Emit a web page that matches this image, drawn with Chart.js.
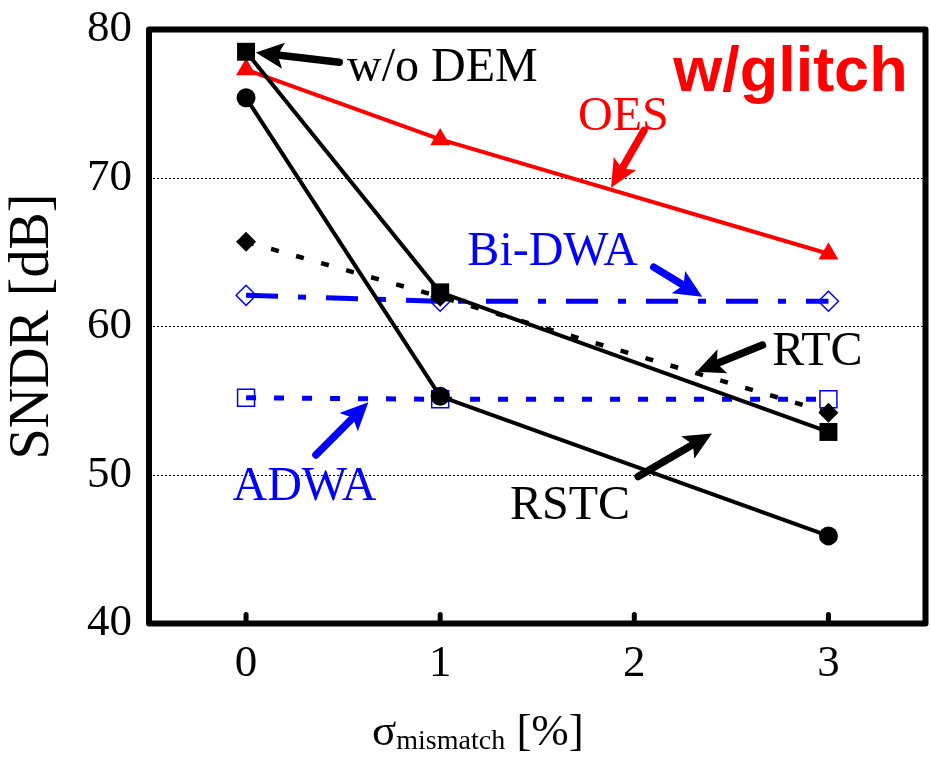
<!DOCTYPE html>
<html>
<head>
<meta charset="utf-8">
<script src="https://cdn.jsdelivr.net/npm/chart.js@4.4.1/dist/chart.umd.min.js"></script>
<style>
  html, body { margin: 0; padding: 0; background: #fff; }
  canvas { display: block; }
</style>
</head>
<body>
<canvas id="chart" width="930" height="760"></canvas>
<script>
// ---- data ----
const xLabels = ['0', '1', '2', '3'];
const yTicks = [40, 50, 60, 70, 80];
const woDEM = [78.5, 62.3, null, 52.9];
const oes   = [77.3, 72.6, null, 64.9];
const rstc  = [75.4, 55.3, null, 45.9];
const rtc   = [65.7, 62.0, null, 54.2];
const biDWA = [62.1, 61.7, null, 61.7];
const adwa  = [55.2, 55.1, null, 55.1];

// labels + arrows, placed in data units (x = category index, y = dB)
const notes = [
  { text: 'w/o DEM', x: 0.52, y: 76.5, color: '#000', arrow: [0.48, 77.8, 0.05, 78.45] },
  { text: 'OES', x: 1.71, y: 73.2, color: '#f00', arrow: [2.05, 73.2, 1.88, 69.35] },
  { text: 'Bi-DWA', x: 1.14, y: 64.15, color: '#00f', arrow: [2.10, 64.0, 2.35, 62.0] },
  { text: 'RTC', x: 2.71, y: 57.4, color: '#000', arrow: [2.66, 58.75, 2.32, 56.95] },
  { text: 'RSTC', x: 1.36, y: 47.05, color: '#000', arrow: [2.02, 49.9, 2.40, 52.8] },
  { text: 'ADWA', x: -0.07, y: 48.3, color: '#00f', arrow: [0.36, 51.35, 0.63, 54.9] }
];

const SERIF = '"Liberation Serif", "Times New Roman", serif';

function drawArrow(ctx, x1, y1, x2, y2, color){
  const a = Math.atan2(y2 - y1, x2 - x1);
  const c = Math.cos(a), s = Math.sin(a);
  const hl = 28, hw = 13;
  const bx = x2 - hl * c, by = y2 - hl * s;
  ctx.strokeStyle = color;
  ctx.fillStyle = color;
  ctx.lineWidth = 7.5;
  ctx.lineCap = 'round';
  ctx.beginPath();
  ctx.moveTo(x1, y1);
  ctx.lineTo(bx + 6 * c, by + 6 * s);
  ctx.stroke();
  ctx.beginPath();
  ctx.moveTo(x2, y2);
  ctx.lineTo(bx - hw * s, by + hw * c);
  ctx.lineTo(bx + 6 * c, by + 6 * s);
  ctx.lineTo(bx + hw * s, by - hw * c);
  ctx.closePath();
  ctx.fill();
}

// zero out the auto label padding so the plot box sits where the figure has it
function noPad(s){
  s.paddingLeft = 0; s.paddingRight = 0; s.paddingTop = 0; s.paddingBottom = 0;
}

const decor = {
  id: 'decor',
  afterDatasetsDraw(chart){
    const ctx = chart.ctx, xs = chart.scales.x, ys = chart.scales.y, area = chart.chartArea;
    ctx.save();
    // annotation labels + arrows
    notes.forEach(n => {
      ctx.font = '48px ' + SERIF;
      ctx.fillStyle = n.color;
      ctx.textAlign = 'left';
      ctx.textBaseline = 'alphabetic';
      ctx.fillText(n.text, xs.getPixelForValue(n.x), ys.getPixelForValue(n.y));
      const a = n.arrow;
      drawArrow(ctx, xs.getPixelForValue(a[0]), ys.getPixelForValue(a[1]),
                     xs.getPixelForValue(a[2]), ys.getPixelForValue(a[3]), n.color);
    });
    // w/glitch tag
    ctx.font = 'bold 63px "Liberation Sans", Arial, sans-serif';
    ctx.fillStyle = '#f00';
    ctx.textAlign = 'left';
    ctx.fillText('w/glitch', xs.getPixelForValue(2.2), ys.getPixelForValue(75.85));

    // frame
    ctx.strokeStyle = '#000';
    ctx.lineWidth = 6;
    ctx.lineJoin = 'round';
    ctx.strokeRect(area.left, area.top, area.right - area.left, area.bottom - area.top);
    // inner tick stubs on bottom axis
    ctx.lineWidth = 5;
    ctx.lineCap = 'round';
    xLabels.forEach((l, i) => {
      const px = xs.getPixelForValue(i);
      ctx.beginPath();
      ctx.moveTo(px, area.bottom);
      ctx.lineTo(px, area.bottom - 9);
      ctx.stroke();
    });

    // x axis title with subscript
    ctx.fillStyle = '#000';
    ctx.textAlign = 'left';
    let x = 372;
    ctx.font = '45px ' + SERIF;
    ctx.fillText('\u03c3', x, 745);
    x += ctx.measureText('\u03c3').width;
    ctx.font = '28px ' + SERIF;
    ctx.fillText('mismatch', x, 749);
    x += ctx.measureText('mismatch').width;
    ctx.font = '45px ' + SERIF;
    ctx.fillText(' [%]', x, 745);
    ctx.restore();
  }
};

new Chart(document.getElementById('chart'), {
  type: 'line',
  data: {
    labels: xLabels,
    datasets: [
      { label: 'w/o DEM', data: woDEM, borderColor: '#000', backgroundColor: '#000',
        borderWidth: 4, pointStyle: 'rect', pointRadius: 12.7, pointBorderWidth: 0 },
      { label: 'RSTC', data: rstc, borderColor: '#000', backgroundColor: '#000',
        borderWidth: 4, pointStyle: 'circle', pointRadius: 9.5, pointBorderWidth: 0 },
      { label: 'RTC', data: rtc, borderColor: '#000', backgroundColor: '#000',
        borderWidth: 4.5, borderDash: [8, 18], pointStyle: 'rectRot', pointRadius: 10, pointBorderWidth: 0 },
      { label: 'OES', data: oes, borderColor: '#f00', backgroundColor: '#f00',
        borderWidth: 4, pointStyle: 'triangle', pointRadius: 11.5, pointBorderWidth: 0 },
      { label: 'Bi-DWA', data: biDWA, borderColor: '#00f', backgroundColor: 'rgba(0,0,0,0)',
        borderWidth: 5, borderDash: [32, 20, 8, 20], pointStyle: 'rectRot', pointRadius: 10,
        pointBorderWidth: 1.5, pointBorderColor: '#00f' },
      { label: 'ADWA', data: adwa, borderColor: '#00f', backgroundColor: 'rgba(0,0,0,0)',
        borderWidth: 5, borderDash: [10, 18], pointStyle: 'rect', pointRadius: 12,
        pointBorderWidth: 1.5, pointBorderColor: '#00f' }
    ].map(d => Object.assign({ spanGaps: true, tension: 0, fill: false, clip: false,
                               pointHoverRadius: d.pointRadius }, d))
  },
  options: {
    responsive: false,
    animation: false,
    events: [],
    layout: { autoPadding: false, padding: { left: 0, top: 29.5, right: 4.5, bottom: 0 } },
    plugins: { legend: { display: false }, tooltip: { enabled: false } },
    scales: {
      x: {
        type: 'category',
        offset: true,
        grid: { display: false, drawTicks: false },
        border: { display: false },
        ticks: { color: '#000', padding: 14, maxRotation: 0, font: { family: SERIF, size: 45 } },
        afterFit(s){ s.height = 136.5; noPad(s); }
      },
      y: {
        min: 40, max: 80,
        afterBuildTicks(s){ s.ticks = yTicks.map(v => ({ value: v })); },
        grid: {
          drawTicks: false,
          lineWidth: 1,
          color: c => (c.tick && c.tick.value > 40 && c.tick.value < 80) ? '#000' : 'rgba(0,0,0,0)'
        },
        border: { display: false, dash: [2, 2] },
        ticks: { color: '#000', padding: 17, font: { family: SERIF, size: 45 } },
        title: { display: true, text: 'SNDR [dB]', color: '#000', padding: 0,
                 font: { family: SERIF, size: 56 } },
        afterFit(s){ s.width = 149; noPad(s); }
      }
    }
  },
  plugins: [decor]
});
</script>
</body>
</html>
